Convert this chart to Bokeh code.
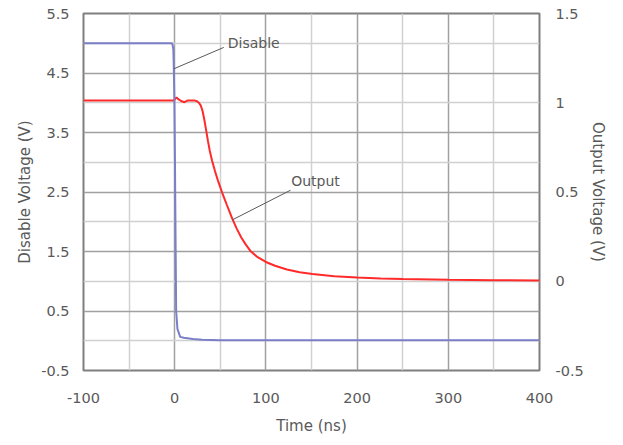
from bokeh.plotting import figure
from bokeh.models import Range1d, LinearAxis, FixedTicker, ColumnDataSource
from bokeh.core.properties import value
from bokeh.embed import file_html
from bokeh.resources import INLINE

# ---- data ----
disable_t = [-100, -50, -10, -2.7, -1.5, -1.0, -0.3, 0.3, 1.0, 1.6, 3, 6, 10, 20, 30, 50, 100, 200, 300, 400]
disable_v = [5.0, 5.0, 5.0, 5.0, 4.9, 4.6, 4.0, 3.0, 1.6, 0.5, 0.2, 0.065, 0.05, 0.03, 0.015, 0.01, 0.01, 0.01, 0.01, 0.01]

output_t = [-100, -50, -1, 2, 4, 7, 10.7, 14, 22, 24.5, 26.5, 28.5, 30.5, 32.5, 34.5, 36.5, 38.5, 41, 44, 48, 52,
            57, 63, 68, 73, 78, 83, 90, 100, 110, 123, 137, 151, 175, 200, 226, 250, 300, 350, 400]
output_v = [1.012, 1.012, 1.012, 1.03, 1.02, 1.01, 1.003, 1.012, 1.012, 1.008, 1.0, 0.985, 0.955, 0.905, 0.845,
            0.785, 0.73, 0.675, 0.62, 0.555, 0.497, 0.43, 0.352, 0.295, 0.245, 0.205, 0.17, 0.138, 0.108, 0.087,
            0.066, 0.05, 0.04, 0.028, 0.021, 0.015, 0.012, 0.008, 0.006, 0.004]

x_ticks = [-100, 0, 100, 200, 300, 400]
x_tick_labels = ["-100", "0", "100", "200", "300", "400"]
x_minor = [-50, 50, 150, 250, 350]
left_ticks = [-0.5, 0.5, 1.5, 2.5, 3.5, 4.5, 5.5]
left_tick_labels = ["-0.5", "0.5", "1.5", "2.5", "3.5", "4.5", "5.5"]
left_minor = [0, 1, 2, 3, 4, 5]
right_ticks = [-0.5, 0, 0.5, 1, 1.5]
right_tick_labels = ["-0.5", "0", "0.5", "1", "1.5"]

# annotations in left-axis data units
ann_labels = ["Disable", "Output"]
ann_text_x = [58.2, 127.7]
ann_text_y = [5.0, 2.69]
ann_from_x = [-1.0, 63.0]
ann_from_y = [4.57, 2.03]
ann_to_x = [53.8, 127.0]
ann_to_y = [4.93, 2.53]

TEXT = "#595959"
FONT = "DejaVu Sans"

p = figure(width=615, height=437, output_backend="svg", toolbar_location=None,
           x_range=Range1d(-100, 400), y_range=Range1d(-0.5, 5.5),
           min_border_left=83, min_border_right=76, min_border_top=13, min_border_bottom=62)
p.extra_y_ranges = {"out": Range1d(-0.5, 1.5)}
p.background_fill_color = "white"
p.border_fill_color = "white"
p.outline_line_color = "#7f7f7f"
p.outline_line_width = 2

# grids
p.xgrid.ticker = FixedTicker(ticks=x_ticks, minor_ticks=x_minor)
p.ygrid.ticker = FixedTicker(ticks=left_ticks, minor_ticks=left_minor)
for g in (p.xgrid, p.ygrid):
    g.grid_line_color = "#a0a0a0"
    g.grid_line_width = 1.5
    g.minor_grid_line_color = "#d0d0d0"
    g.minor_grid_line_width = 1.5

def style_axis(ax, label_size="14.5px"):
    ax.major_tick_out = 0
    ax.major_tick_in = 0
    ax.minor_tick_out = 0
    ax.minor_tick_in = 0
    ax.axis_line_color = None
    ax.major_label_text_font = FONT
    ax.major_label_text_font_size = label_size
    ax.major_label_text_color = TEXT
    ax.axis_label_text_font = FONT
    ax.axis_label_text_font_size = "15px"
    ax.axis_label_text_font_style = "normal"
    ax.axis_label_text_color = TEXT

xa = p.xaxis[0]
xa.ticker = FixedTicker(ticks=x_ticks)
xa.major_label_overrides = dict(zip(x_ticks, x_tick_labels))
xa.axis_label = "Time (ns)"
style_axis(xa)
xa.major_label_standoff = 22
xa.axis_label_standoff = 11

ya = p.yaxis[0]
ya.ticker = FixedTicker(ticks=left_ticks)
ya.major_label_overrides = dict(zip(left_ticks, left_tick_labels))
ya.axis_label = "Disable Voltage (V)"
style_axis(ya)
ya.major_label_standoff = 14
ya.axis_label_standoff = 4

ra = LinearAxis(y_range_name="out", ticker=FixedTicker(ticks=right_ticks),
                axis_label="Output Voltage (V)")
ra.major_label_overrides = dict(zip(right_ticks, right_tick_labels))
style_axis(ra)
ra.major_label_standoff = 16
ra.axis_label_standoff = 2
p.add_layout(ra, "right")

# series
p.line(output_t, output_v, y_range_name="out", line_color="#ff2a2a", line_width=2)
p.line(disable_t, disable_v, line_color="#7b7fc8", line_width=2)

# annotations
src = ColumnDataSource(dict(x0=ann_from_x, y0=ann_from_y, x1=ann_to_x, y1=ann_to_y,
                            tx=ann_text_x, ty=ann_text_y, label=ann_labels))
p.segment(x0="x0", y0="y0", x1="x1", y1="y1", source=src, line_color="#595959", line_width=1)
p.text(x="tx", y="ty", text="label", source=src, text_font=value(FONT), text_font_size="14px",
       text_color=TEXT, text_baseline="middle", text_align="left")

open("out.html", "w").write(file_html(p, INLINE))
